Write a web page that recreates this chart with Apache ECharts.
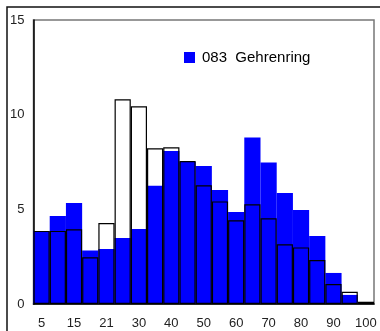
<!DOCTYPE html>
<html>
<head>
<meta charset="utf-8">
<script src="https://cdn.jsdelivr.net/npm/echarts@6/dist/echarts.min.js"></script>
<style>html,body{margin:0;padding:0;background:#fff}#c{width:380px;height:331px}</style>
</head>
<body>
<div id="c"></div>
<script>
var categories = ['5','10','15','20','21','25','30','35','40','45','50','55','60','65','70','75','80','85','90','95','100'];
var blueValues = [3.85,4.65,5.34,2.82,2.91,3.49,3.96,6.25,8.08,7.5,7.29,6.02,4.86,8.79,7.47,5.86,4.97,3.59,1.64,0.48,0];
var outlineValues = [3.86,3.86,3.95,2.47,4.28,10.81,10.44,8.22,8.28,7.55,6.27,5.42,4.42,5.27,4.53,3.15,2.99,2.32,1.06,0.65,0.12];
var seriesName = '083  Gehrenring';
var yTicks = {min: 0, max: 15, interval: 5};

var chart = echarts.init(document.getElementById('c'), null, {renderer: 'canvas'});
chart.setOption({
  animation: false,
  backgroundColor: '#fff',
  textStyle: {fontFamily: 'Liberation Sans, Arial, sans-serif'},
  graphic: [{
    type: 'rect', silent: true, z: 0,
    shape: {x: 7, y: 7, width: 600, height: 600},
    style: {fill: 'none', stroke: '#111', lineWidth: 1.5}
  }],
  grid: {left: 33.5, top: 20, right: 6, bottom: 27, show: true, borderColor: '#777', borderWidth: 1.5, backgroundColor: 'transparent'},
  legend: {
    data: [seriesName], left: 184, top: 50, padding: 0, icon: 'rect', itemWidth: 11, itemHeight: 11, itemGap: 0,
    textStyle: {fontSize: 15, color: '#000', fontFamily: 'Liberation Sans, Arial, sans-serif', padding: [0, 0, 0, 2]}
  },
  xAxis: {
    type: 'category', data: categories, boundaryGap: true,
    axisLine: {lineStyle: {color: '#000', width: 1.5}},
    axisTick: {show: false},
    axisLabel: {interval: 1, color: '#222', fontSize: 13, margin: 13, fontFamily: 'Liberation Sans, Arial, sans-serif'},
    splitLine: {show: false}
  },
  yAxis: {
    type: 'value', min: yTicks.min, max: yTicks.max, interval: yTicks.interval,
    axisLine: {show: true, lineStyle: {color: '#000', width: 1.5}},
    axisTick: {show: false},
    axisLabel: {color: '#222', fontSize: 13, margin: 9, fontFamily: 'Liberation Sans, Arial, sans-serif'},
    splitLine: {show: false}
  },
  series: [
    {name: seriesName, type: 'bar', data: blueValues, barWidth: '100%', barGap: '-100%',
     itemStyle: {color: '#0000ff'}, z: 2},
    {name: 'outline', type: 'bar', data: outlineValues, barWidth: '100%', barGap: '-100%',
     itemStyle: {color: 'rgba(0,0,0,0)', borderColor: '#000', borderWidth: 1.2}, z: 3}
  ]
});
</script>
</body>
</html>
